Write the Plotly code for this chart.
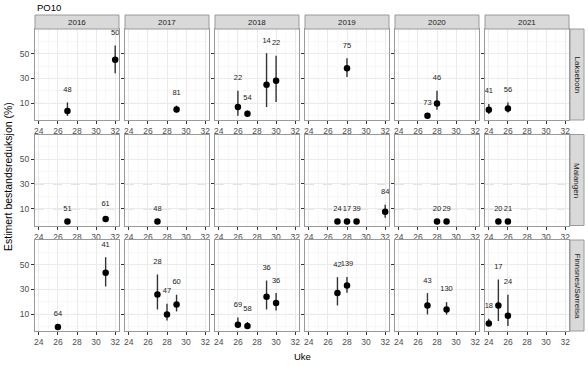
import plotly.graph_objects as go

years = [2016, 2017, 2018, 2019, 2020, 2021]
areas = ["Laksebotn", "Malangen", "Finnsnes/Sørreisa"]

# observations (one entry per point)
obs_area = (["Laksebotn"] * 12 + ["Malangen"] * 11 + ["Finnsnes/Sørreisa"] * 16)
obs_year = [2016, 2016, 2017, 2018, 2018, 2018, 2018, 2019, 2020, 2020, 2021, 2021,
            2016, 2016, 2017, 2019, 2019, 2019, 2019, 2020, 2020, 2021, 2021,
            2016, 2016, 2017, 2017, 2017, 2018, 2018, 2018, 2018, 2019, 2019, 2020, 2020, 2021, 2021, 2021]
obs_week = [27, 32, 29, 26, 27, 29, 30, 28, 27, 28, 24, 26,
            27, 31, 27, 27, 28, 29, 32, 28, 29, 25, 26,
            26, 31, 27, 28, 29, 26, 27, 29, 30, 27, 28, 27, 29, 24, 25, 26]
obs_est = [4.0, 45.0, 5.2, 7.1, 1.8, 25.0, 28.2, 38.3, 0.2, 10.0, 5.0, 6.0,
           0.0, 2.0, 0.0, 0.0, 0.0, 0.0, 7.8, 0.0, 0.0, 0.0, 0.0,
           0.0, 43.4, 26.0, 10.0, 18.0, 1.8, 0.7, 24.2, 19.1, 27.1, 33.2, 17.2, 14.0, 2.8, 17.2, 9.0]
obs_low = [0.0, 34.3, 2.8, 0.2, 0.0, 7.1, 11.1, 31.1, 0.0, 5.0, 1.5, 2.8,
           0.0, 0.0, 0.0, 0.0, 0.0, 0.0, 3.0, 0.0, 0.0, 0.0, 0.0,
           0.0, 32.4, 14.0, 5.2, 12.4, 0.0, 0.0, 14.0, 13.2, 17.2, 27.4, 10.0, 9.8, 0.7, 4.7, 0.7]
obs_up = [10.8, 56.4, 8.2, 20.2, 4.2, 50.3, 48.2, 46.3, 0.2, 20.2, 9.5, 10.8,
          0.0, 4.0, 0.0, 0.0, 0.0, 0.0, 13.4, 0.0, 0.0, 0.0, 0.0,
          0.0, 55.9, 42.0, 18.6, 25.8, 7.6, 3.9, 37.2, 27.1, 39.9, 40.0, 27.1, 19.9, 6.6, 38.0, 25.8]
obs_n = [48, 50, 81, 22, 54, 14, 22, 75, 73, 46, 41, 56,
         51, 61, 48, 24, 17, 39, 84, 20, 29, 20, 21,
         64, 41, 28, 47, 60, 69, 58, 36, 36, 42, 139, 43, 130, 18, 17, 24]

x_ticks = [24, 26, 28, 30, 32]
y_ticks = [10, 30, 50]
ref_lines = [10, 30]
label_offset = 10

W, H = 588, 366
L, R, T, B = 35, 569, 29, 331
pw, gap = 84, 6
row_px = [(29, 120), (134.5, 225.5), (240, 331)]


def px_x(p):
    return (p - L) / (R - L)


def px_y(p):
    return (B - p) / (B - T)


fig = go.Figure()
layout = {}
shapes = []
annotations = []
border_col = "#9A9A9A"
txt_col = "#1A1A1A"
tick_col = "#4D4D4D"
font_family = "Liberation Sans, Arial, sans-serif"

for r, area in enumerate(areas):
    for c, yr in enumerate(years):
        k = r * len(years) + c + 1
        xs = "" if k == 1 else str(k)
        x0 = L + c * (pw + gap)
        xd = [px_x(x0), px_x(x0 + pw)]
        yd = [px_y(row_px[r][1]), px_y(row_px[r][0])]
        layout["xaxis" + xs] = dict(
            domain=xd, anchor="y" + xs, range=[23.6, 32.4],
            tickvals=x_ticks, ticks="outside", ticklen=3, tickcolor="#333333",
            tickfont=dict(size=8.5, color=tick_col),
            showgrid=True, gridcolor="#EBEBEB", gridwidth=1,
            minor=dict(dtick=1, tick0=25, showgrid=True, gridcolor="#F4F4F4", gridwidth=0.6),
            showline=True, mirror=True, linecolor=border_col, linewidth=1, zeroline=False,
        )
        layout["yaxis" + xs] = dict(
            domain=yd, anchor="x" + xs, range=[-3.3, 69.7],
            tickvals=y_ticks, ticks="outside", ticklen=3, tickcolor="#333333",
            showticklabels=(c == 0),
            tickfont=dict(size=8.5, color=tick_col),
            showgrid=True, gridcolor="#EBEBEB", gridwidth=1,
            minor=dict(tickvals=[0, 20, 40, 60], showgrid=True, gridcolor="#F4F4F4", gridwidth=0.6),
            showline=True, mirror=True, linecolor=border_col, linewidth=1, zeroline=False,
        )
        for v in ref_lines:
            shapes.append(dict(type="line", xref="x" + xs + " domain", yref="y" + xs,
                               x0=0, x1=1, y0=v, y1=v, layer="below",
                               line=dict(color="#BDBDBD", width=0.9, dash="dash")))
        idx = [i for i in range(len(obs_area))
               if obs_area[i] == area and obs_year[i] == yr]
        if idx:
            wk = [obs_week[i] for i in idx]
            est = [obs_est[i] for i in idx]
            up = [obs_up[i] - obs_est[i] for i in idx]
            lo = [obs_est[i] - obs_low[i] for i in idx]
            fig.add_trace(go.Scatter(
                x=wk, y=est, mode="markers", xaxis="x" + xs, yaxis="y" + xs,
                marker=dict(size=6.5, color="black"),
                error_y=dict(type="data", array=up, arrayminus=lo, width=0,
                             thickness=1.4, color="#333333"),
                showlegend=False, hoverinfo="skip", cliponaxis=False))
            fig.add_trace(go.Scatter(
                x=wk, y=[obs_up[i] + label_offset for i in idx],
                text=[str(obs_n[i]) for i in idx], mode="text",
                xaxis="x" + xs, yaxis="y" + xs,
                textfont=dict(size=7.5, color=txt_col, family=font_family),
                showlegend=False, hoverinfo="skip", cliponaxis=False))
        else:
            fig.add_trace(go.Scatter(x=[], y=[], xaxis="x" + xs, yaxis="y" + xs,
                                     showlegend=False))
        # top strips
        if r == 0:
            shapes.append(dict(type="rect", xref="paper", yref="paper",
                               x0=xd[0], x1=xd[1], y0=px_y(29), y1=px_y(15),
                               fillcolor="#D9D9D9", line=dict(color=border_col, width=1)))
            annotations.append(dict(text=str(yr), xref="paper", yref="paper",
                                    x=(xd[0] + xd[1]) / 2, y=px_y(22), showarrow=False,
                                    xanchor="center", yanchor="middle",
                                    font=dict(size=8, color=txt_col)))
    # right strips
    yd = [px_y(row_px[r][1]), px_y(row_px[r][0])]
    shapes.append(dict(type="rect", xref="paper", yref="paper",
                       x0=px_x(570), x1=px_x(584), y0=yd[0], y1=yd[1],
                       fillcolor="#D9D9D9", line=dict(color=border_col, width=1)))
    annotations.append(dict(text=area, xref="paper", yref="paper",
                            x=px_x(577), y=(yd[0] + yd[1]) / 2, showarrow=False,
                            textangle=90, xanchor="center", yanchor="middle",
                            font=dict(size=8, color=txt_col)))

annotations.append(dict(text="PO10", xref="paper", yref="paper", x=px_x(35), y=px_y(7.5),
                        xanchor="left", yanchor="middle", showarrow=False,
                        font=dict(size=9.5, color="black")))
annotations.append(dict(text="Estimert bestandsreduksjon (%)", xref="paper", yref="paper",
                        x=px_x(8), y=px_y(177), textangle=-90, xanchor="center", yanchor="middle",
                        showarrow=False, font=dict(size=10.5, color="black")))
annotations.append(dict(text="Uke", xref="paper", yref="paper", x=px_x(302), y=px_y(356),
                        xanchor="center", yanchor="middle", showarrow=False,
                        font=dict(size=9.5, color="black")))

fig.update_layout(
    width=W, height=H,
    margin=dict(l=L, r=W - R, t=T, b=H - B),
    paper_bgcolor="white", plot_bgcolor="white",
    font=dict(family=font_family),
    shapes=shapes, annotations=annotations,
    hovermode=False,
    **layout,
)
fig.write_html("out.html",
               config={"displayModeBar": False, "staticPlot": True},
               post_script="document.body.style.margin='0';document.body.style.padding='0';"
                           "document.body.style.overflow='hidden';")
